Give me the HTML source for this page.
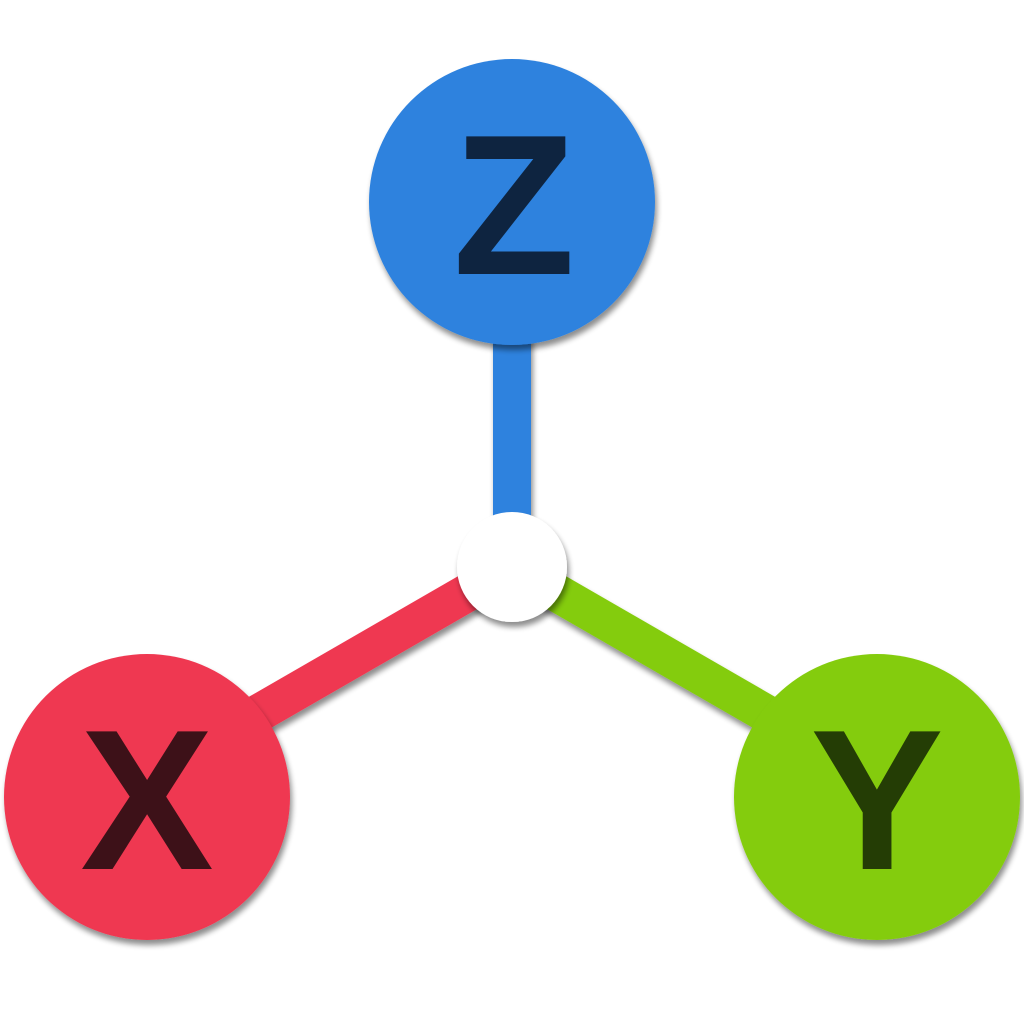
<!DOCTYPE html>
<html><head><meta charset="utf-8"><style>
html,body{margin:0;padding:0;background:#fff;}
svg{display:block;}
text{font-family:"Liberation Sans",sans-serif;font-weight:bold;}
</style></head><body>
<svg width="1024" height="1024" viewBox="0 0 1024 1024" xmlns="http://www.w3.org/2000/svg">
<defs>
<filter id="sh" x="-20%" y="-20%" width="140%" height="140%">
<feGaussianBlur in="SourceAlpha" stdDeviation="3"/>
<feOffset dx="2" dy="5" result="b"/>
<feComponentTransfer><feFuncA type="linear" slope="0.45"/></feComponentTransfer>
<feMerge><feMergeNode/><feMergeNode in="SourceGraphic"/></feMerge>
</filter>
</defs>
<g filter="url(#sh)">
<line x1="512" y1="567" x2="512" y2="300" stroke="#2f82de" stroke-width="38"/>
<line x1="512" y1="567" x2="200" y2="747" stroke="#ef3851" stroke-width="38"/>
<line x1="512" y1="567" x2="824" y2="747" stroke="#84cc0f" stroke-width="38"/>
</g>
<g filter="url(#sh)">
<circle cx="512" cy="202" r="143" fill="#2f82de"/>
<circle cx="147" cy="797" r="143" fill="#ef3851"/>
<circle cx="877" cy="797" r="143" fill="#84cc0f"/>
<circle cx="512" cy="567" r="55" fill="#fff"/>
</g>
<text x="514" y="274" text-anchor="middle" font-size="200" fill="#0e2440">Z</text>
<text x="147" y="869" text-anchor="middle" font-size="200" fill="#3d1118">X</text>
<text x="877" y="869" text-anchor="middle" font-size="200" fill="#243d05">Y</text>
</svg>
</body></html>
